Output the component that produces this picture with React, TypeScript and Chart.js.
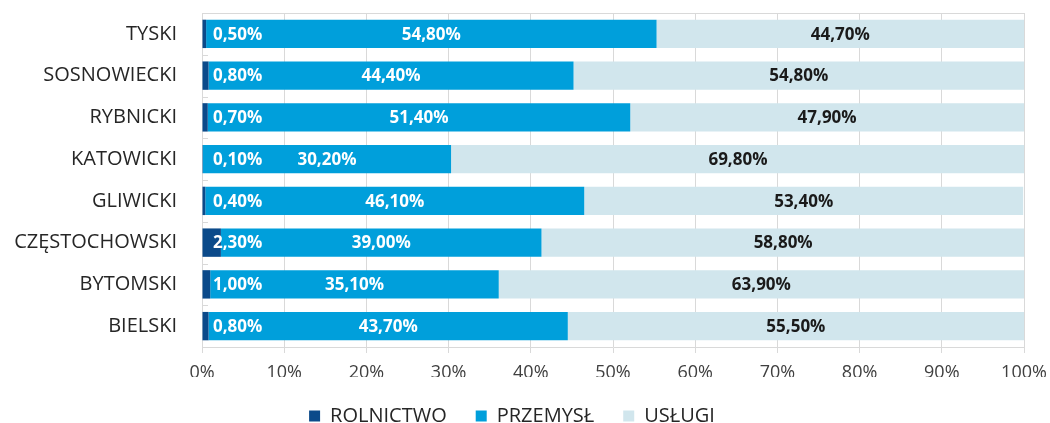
import React, { useEffect, useRef } from "react";
import { Chart, registerables } from "chart.js";

Chart.register(...registerables);

const categories = ["TYSKI", "SOSNOWIECKI", "RYBNICKI", "KATOWICKI", "GLIWICKI", "CZĘSTOCHOWSKI", "BYTOMSKI", "BIELSKI"];
const rolnictwo = [0.5, 0.8, 0.7, 0.1, 0.4, 2.3, 1.0, 0.8];
const przemysl = [54.8, 44.4, 51.4, 30.2, 46.1, 39.0, 35.1, 43.7];
const uslugi = [44.7, 54.8, 47.9, 69.8, 53.4, 58.8, 63.9, 55.5];
const seriesNames = ["ROLNICTWO", "PRZEMYSŁ", "USŁUGI"];
const seriesColors = ["#0b4a8a", "#009fdb", "#d1e6ed"];
const xTickStep = 10;
const xMax = 100;

const FONT = "'Open Sans', 'Noto Sans', sans-serif";
const GRID = "#d9d9d9";

const fmt = (v: number) => v.toFixed(2).replace(".", ",") + "%";

const labelPlugin = {
  id: "barLabels",
  afterDatasetsDraw(chart: any) {
    const ctx = chart.ctx;
    const xScale = chart.scales.x;
    chart.data.datasets.forEach((ds: any, di: number) => {
      const meta = chart.getDatasetMeta(di);
      meta.data.forEach((bar: any, i: number) => {
        const text = fmt(ds.data[i]);
        ctx.save();
        ctx.font = `bold 17px ${FONT}`;
        ctx.fillStyle = di === 2 ? "#1a1a1a" : "#ffffff";
        ctx.textBaseline = "middle";
        if (di === 0) {
          ctx.textAlign = "left";
          ctx.fillText(text, xScale.left + 11, bar.y + 1);
        } else {
          ctx.textAlign = "center";
          ctx.fillText(text, (bar.x + bar.base) / 2, bar.y + 1);
        }
        ctx.restore();
      });
    });
  },
};

const framePlugin = {
  id: "frame",
  afterDraw(chart: any) {
    const ctx = chart.ctx;
    const a = chart.chartArea;
    ctx.save();
    ctx.strokeStyle = GRID;
    ctx.lineWidth = 1;
    ctx.beginPath();
    ctx.moveTo(a.left, a.top + 0.5);
    ctx.lineTo(a.right, a.top + 0.5);
    const n = categories.length;
    const step = (a.bottom - a.top) / n;
    for (let k = 1; k < n; k++) {
      const y = Math.round(a.top + k * step) + 0.5;
      ctx.moveTo(a.left, y);
      ctx.lineTo(a.left + 6, y);
    }
    ctx.stroke();
    ctx.restore();
  },
};

export default function App() {
  const ref = useRef<HTMLCanvasElement>(null);
  useEffect(() => {
    if (!ref.current) return;
    const chart = new Chart(ref.current, {
      type: "bar",
      data: {
        labels: categories,
        datasets: [rolnictwo, przemysl, uslugi].map((d, i) => ({
          label: seriesNames[i],
          data: d,
          backgroundColor: seriesColors[i],
          borderWidth: 0,
          barPercentage: 0.68,
          categoryPercentage: 1,
        })),
      },
      options: {
        indexAxis: "y",
        responsive: false,
        animation: false,
        layout: { padding: { left: 0, right: 26, top: 13, bottom: -13 } },
        plugins: {
          legend: {
            position: "bottom",
            labels: {
              boxWidth: 11,
              boxHeight: 11,
              padding: 29,
              color: "#262626",
              font: { family: FONT, size: 20 },
            },
          },
          tooltip: { enabled: false },
        },
        scales: {
          x: {
            stacked: true,
            min: 0,
            max: xMax,
            ticks: {
              stepSize: xTickStep,
              callback: (v: any) => v + "%",
              color: "#404040",
              font: { family: FONT, size: 18 },
              padding: 9,
            },
            grid: { color: GRID, tickLength: 6, tickColor: GRID },
            border: { color: GRID },
            afterFit: (s: any) => {
              s.height = 30;
              s.paddingLeft = 0;
              s.paddingRight = 0;
            },
          },
          y: {
            stacked: true,
            ticks: {
              color: "#262626",
              font: { family: FONT, size: 20 },
              padding: 0,
            },
            grid: { drawOnChartArea: false, drawTicks: true, tickLength: 25, tickColor: "rgba(0,0,0,0)" },
            border: { color: GRID },
            afterFit: (s: any) => {
              s.width = 202;
            },
          },
        },
      },
      plugins: [labelPlugin, framePlugin],
    });
    return () => chart.destroy();
  }, []);
  return (
    <div style={{ position: "absolute", left: 0, top: 0, width: 1050, height: 423, background: "#fff" }}>
      <canvas ref={ref} width={1050} height={423} />
    </div>
  );
}
